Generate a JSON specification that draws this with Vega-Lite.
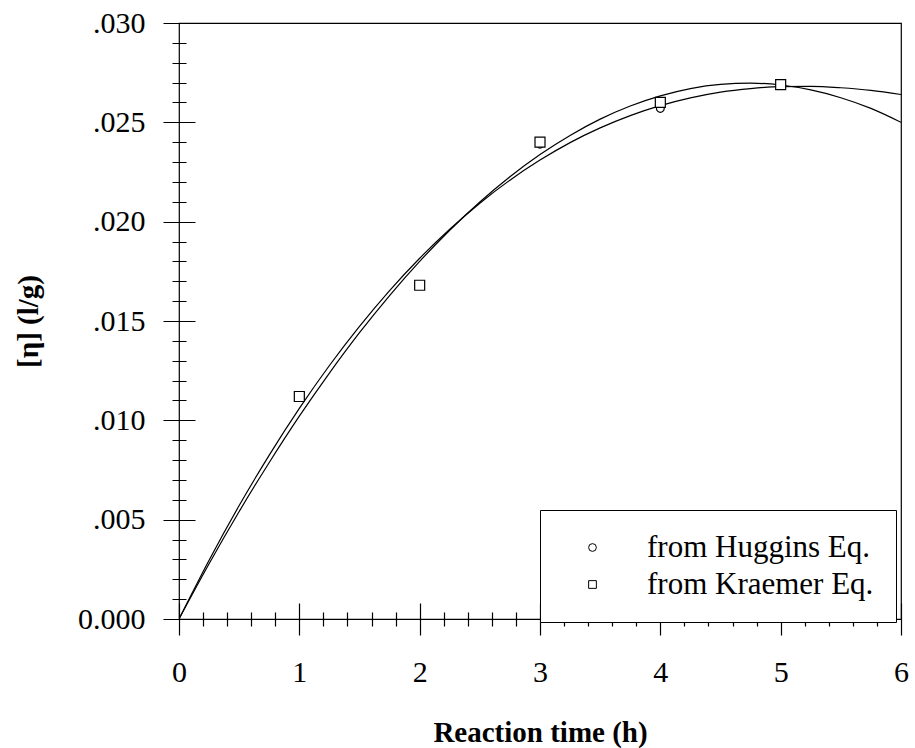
{
  "$schema": "https://vega.github.io/schema/vega-lite/v6.json",
  "autosize": {"type": "none"},
  "width": 722,
  "height": 596,
  "padding": {"left": 179, "top": 23, "right": 14, "bottom": 129},
  "background": "white",
  "config": {
    "view": {"stroke": "black", "strokeWidth": 1.2},
    "font": "Liberation Serif"
  },
  "datasets": {
    "curves": [
      {"t": 0, "v": 0, "curve": "A"},
      {"t": 0.25, "v": 0.00296, "curve": "A"},
      {"t": 0.5, "v": 0.00571, "curve": "A"},
      {"t": 0.75, "v": 0.00825, "curve": "A"},
      {"t": 1, "v": 0.0106, "curve": "A"},
      {"t": 1.25, "v": 0.01276, "curve": "A"},
      {"t": 1.5, "v": 0.01473, "curve": "A"},
      {"t": 1.75, "v": 0.01653, "curve": "A"},
      {"t": 2, "v": 0.01816, "curve": "A"},
      {"t": 2.25, "v": 0.01962, "curve": "A"},
      {"t": 2.5, "v": 0.02093, "curve": "A"},
      {"t": 2.75, "v": 0.02209, "curve": "A"},
      {"t": 3, "v": 0.0231, "curve": "A"},
      {"t": 3.25, "v": 0.02398, "curve": "A"},
      {"t": 3.5, "v": 0.02472, "curve": "A"},
      {"t": 3.75, "v": 0.02534, "curve": "A"},
      {"t": 4, "v": 0.02584, "curve": "A"},
      {"t": 4.25, "v": 0.02623, "curve": "A"},
      {"t": 4.5, "v": 0.02652, "curve": "A"},
      {"t": 4.75, "v": 0.0267, "curve": "A"},
      {"t": 5, "v": 0.0268, "curve": "A"},
      {"t": 5.25, "v": 0.02681, "curve": "A"},
      {"t": 5.5, "v": 0.02674, "curve": "A"},
      {"t": 5.75, "v": 0.02661, "curve": "A"},
      {"t": 6, "v": 0.0264, "curve": "A"},
      {"t": 0, "v": 0, "curve": "B"},
      {"t": 0.25, "v": 0.00278, "curve": "B"},
      {"t": 0.5, "v": 0.00541, "curve": "B"},
      {"t": 0.75, "v": 0.00788, "curve": "B"},
      {"t": 1, "v": 0.01021, "curve": "B"},
      {"t": 1.25, "v": 0.01238, "curve": "B"},
      {"t": 1.5, "v": 0.01441, "curve": "B"},
      {"t": 1.75, "v": 0.01628, "curve": "B"},
      {"t": 2, "v": 0.018, "curve": "B"},
      {"t": 2.25, "v": 0.01957, "curve": "B"},
      {"t": 2.5, "v": 0.02099, "curve": "B"},
      {"t": 2.75, "v": 0.02226, "curve": "B"},
      {"t": 3, "v": 0.02338, "curve": "B"},
      {"t": 3.25, "v": 0.02434, "curve": "B"},
      {"t": 3.5, "v": 0.02516, "curve": "B"},
      {"t": 3.75, "v": 0.02582, "curve": "B"},
      {"t": 4, "v": 0.02633, "curve": "B"},
      {"t": 4.25, "v": 0.0267, "curve": "B"},
      {"t": 4.5, "v": 0.02691, "curve": "B"},
      {"t": 4.75, "v": 0.02697, "curve": "B"},
      {"t": 5, "v": 0.02688, "curve": "B"},
      {"t": 5.25, "v": 0.02663, "curve": "B"},
      {"t": 5.5, "v": 0.02624, "curve": "B"},
      {"t": 5.75, "v": 0.0257, "curve": "B"},
      {"t": 6, "v": 0.025, "curve": "B"}
    ],
    "points": [
      {"t": 1, "v": 0.0112, "series": "from Huggins Eq."},
      {"t": 2, "v": 0.0168, "series": "from Huggins Eq."},
      {"t": 3, "v": 0.0239, "series": "from Huggins Eq."},
      {"t": 4, "v": 0.0257, "series": "from Huggins Eq."},
      {"t": 5, "v": 0.0269, "series": "from Huggins Eq."},
      {"t": 1, "v": 0.0112, "series": "from Kraemer Eq."},
      {"t": 2, "v": 0.0168, "series": "from Kraemer Eq."},
      {"t": 3, "v": 0.0240, "series": "from Kraemer Eq."},
      {"t": 4, "v": 0.0260, "series": "from Kraemer Eq."},
      {"t": 5, "v": 0.0269, "series": "from Kraemer Eq."}
    ]
  },
  "layer": [
    {
      "data": {"name": "curves"},
      "mark": {"type": "line", "color": "black", "strokeWidth": 1.2, "interpolate": "monotone", "clip": true},
      "encoding": {
        "x": {
          "field": "t", "type": "quantitative",
          "scale": {"domain": [0, 6], "nice": false, "zero": false},
          "axis": {
            "title": "Reaction time (h)",
            "titleFont": "Liberation Serif", "titleFontSize": 29, "titleFontWeight": "bold", "titleColor": "black",
            "titleX": 361, "titleY": 129, "titleBaseline": "middle", "titleAnchor": "middle",
            "values": [0,0.2,0.4,0.6,0.8,1,1.2,1.4,1.6,1.8,2,2.2,2.4,2.6,2.8,3,3.2,3.4,3.6,3.8,4,4.2,4.4,4.6,4.8,5,5.2,5.4,5.6,5.8,6],
            "tickCount": 200,
            "labelExpr": "abs(datum.value - round(datum.value)) < 1e-6 ? format(datum.value, 'd') : ''",
            "labelFont": "Liberation Serif", "labelFontSize": 30, "labelColor": "black",
            "labelPadding": 22, "labelOverlap": false, "labelFlush": false,
            "domain": false, "grid": false,
            "offset": -16,
            "tickSize": 32, "tickColor": "black", "tickWidth": 1.2,
            "tickDash": {"condition": {"test": "abs(datum.value - round(datum.value)) < 1e-6", "value": [40, 1]}, "value": [0, 9, 14, 9]}
          }
        },
        "y": {
          "field": "v", "type": "quantitative",
          "scale": {"domain": [0, 0.03], "nice": false, "zero": false},
          "axis": {
            "title": "[η] (l/g)",
            "titleFont": "Liberation Serif", "titleFontSize": 29, "titleFontWeight": "bold", "titleColor": "black",
            "titleX": -167, "titleY": 298, "titleBaseline": "middle", "titleAnchor": "middle", "titleAngle": -90,
            "values": [0,0.001,0.002,0.003,0.004,0.005,0.006,0.007,0.008,0.009,0.01,0.011,0.012,0.013,0.014,0.015,0.016,0.017,0.018,0.019,0.02,0.021,0.022,0.023,0.024,0.025,0.026,0.027,0.028,0.029,0.03],
            "tickCount": 200,
            "labelExpr": "abs(datum.value*200 - round(datum.value*200)) < 1e-6 ? (datum.value == 0 ? '0.000' : replace(format(datum.value, '.3f'), '0.', '.')) : ''",
            "labelFont": "Liberation Serif", "labelFontSize": 30, "labelColor": "black",
            "labelPadding": 18, "labelOverlap": false, "labelFlush": false,
            "domain": false, "grid": false,
            "offset": -16,
            "tickSize": 32, "tickColor": "black", "tickWidth": 1.2,
            "tickDash": {"condition": {"test": "abs(datum.value*200 - round(datum.value*200)) < 1e-6", "value": [40, 1]}, "value": [0, 9, 14, 9]}
          }
        },
        "detail": {"field": "curve"}
      }
    },
    {
      "data": {"name": "points"},
      "transform": [{"filter": "datum.series == 'from Huggins Eq.'"}],
      "mark": {"type": "point", "filled": false, "color": "black", "strokeWidth": 1.2, "opacity": 1, "size": 60},
      "encoding": {
        "x": {"field": "t", "type": "quantitative"},
        "y": {"field": "v", "type": "quantitative"},
        "shape": {
          "field": "series", "type": "nominal",
          "scale": {"domain": ["from Huggins Eq.", "from Kraemer Eq."], "range": ["circle", "square"]},
          "legend": {
            "title": null,
            "orient": "none",
            "legendX": 361,
            "legendY": 487,
            "direction": "vertical",
            "strokeColor": "black",
            "fillColor": "white",
            "padding": 22,
            "cornerRadius": 0,
            "symbolOffset": 15,
            "symbolSize": 60,
            "symbolStrokeColor": "black",
            "symbolStrokeWidth": 1,
            "symbolFillColor": "white",
            "labelOffset": 39,
            "labelFont": "Liberation Serif",
            "labelFontSize": 31,
            "labelColor": "black",
            "labelLimit": 400,
            "rowPadding": 5
          }
        }
      }
    },
    {
      "data": {"name": "points"},
      "transform": [{"filter": "datum.series == 'from Kraemer Eq.'"}],
      "mark": {"type": "square", "filled": true, "color": "white", "opacity": 1, "size": 100},
      "encoding": {
        "x": {"field": "t", "type": "quantitative"},
        "y": {"field": "v", "type": "quantitative"}
      }
    },
    {
      "data": {"name": "points"},
      "transform": [{"filter": "datum.series == 'from Kraemer Eq.'"}],
      "mark": {"type": "point", "filled": false, "color": "black", "strokeWidth": 1.2, "opacity": 1, "size": 100},
      "encoding": {
        "x": {"field": "t", "type": "quantitative"},
        "y": {"field": "v", "type": "quantitative"},
        "shape": {"field": "series", "type": "nominal"}
      }
    }
  ]
}
